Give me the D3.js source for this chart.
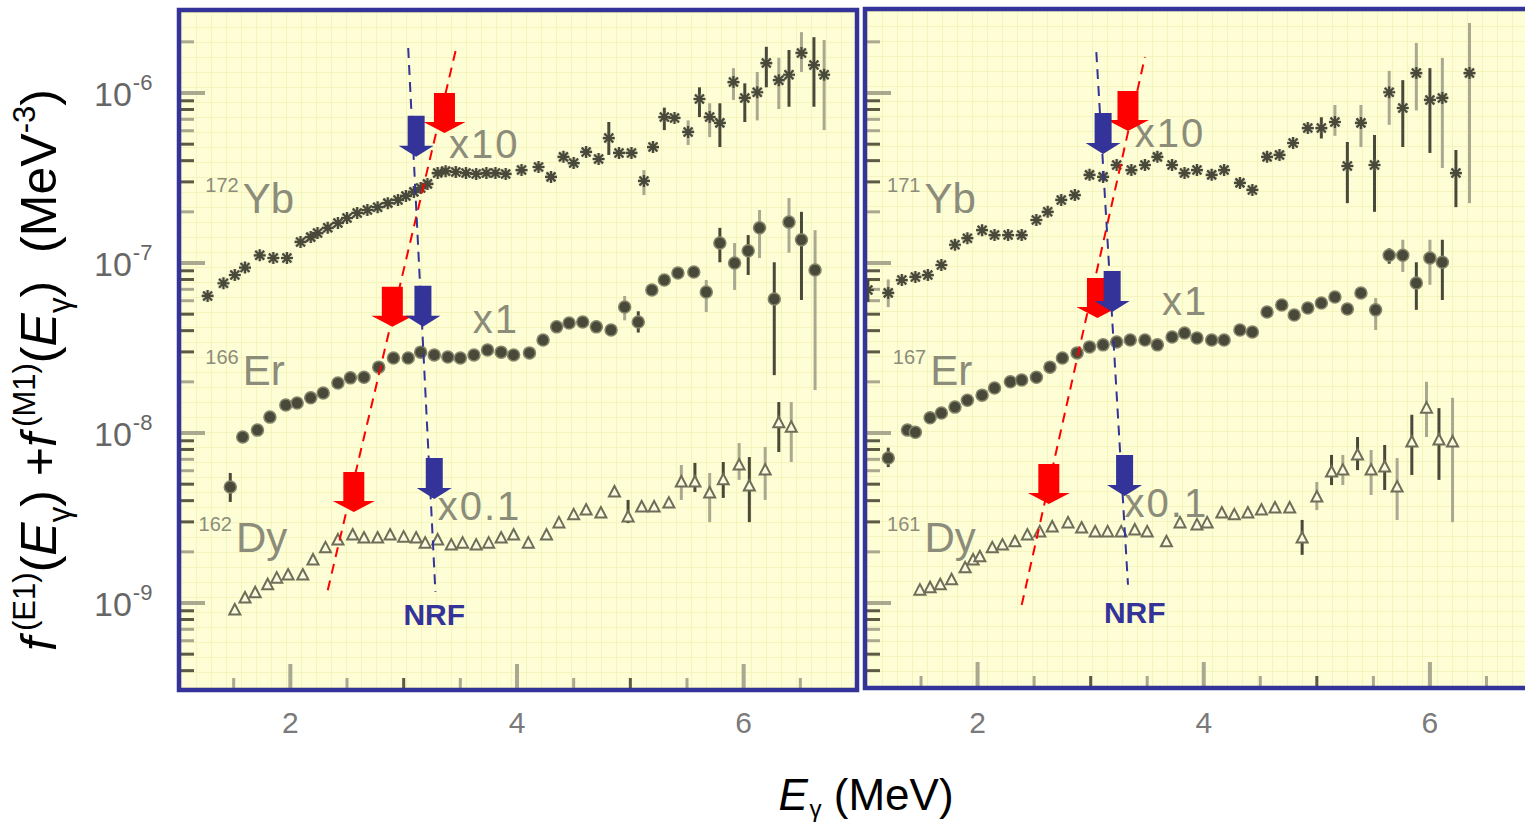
<!DOCTYPE html>
<html><head><meta charset="utf-8">
<script src="https://cdn.jsdelivr.net/npm/d3@7"></script>
<style>
body{margin:0;background:#fff;}
svg{display:block;font-family:"Liberation Sans",Arial,sans-serif;}
</style>
</head><body>
<svg id="chart" width="1525" height="829"></svg>
<script>
// ---------------- DATA ----------------
// each point: [E (MeV), f (MeV^-3, already multiplied by the panel factor), errLow, errHigh]
const yb172 = [[1.27,6.4e-8],[1.41,7.6e-8],[1.51,8.5e-8],[1.60,9.4e-8],[1.73,1.11e-7],[1.85,1.07e-7],[1.97,1.07e-7],[2.09,1.33e-7],[2.18,1.42e-7],[2.24,1.50e-7],[2.33,1.61e-7],[2.42,1.72e-7],[2.50,1.84e-7],[2.59,1.97e-7],[2.68,2.05e-7],[2.77,2.13e-7],[2.86,2.25e-7],[2.95,2.35e-7],[3.02,2.48e-7],[3.09,2.62e-7],[3.15,2.76e-7],[3.21,2.92e-7],[3.30,3.38e-7],[3.37,3.47e-7],[3.46,3.43e-7],[3.55,3.38e-7],[3.64,3.34e-7],[3.73,3.38e-7],[3.81,3.38e-7],[3.90,3.34e-7],[4.04,3.52e-7],[4.19,3.67e-7],[4.30,3.21e-7],[4.41,4.21e-7],[4.50,3.87e-7],[4.61,4.50e-7],[4.72,4.09e-7],[4.81,5.43e-7,4.32e-7,6.75e-7],[4.90,4.44e-7],[5.01,4.44e-7],[5.12,3.04e-7,2.51e-7,3.52e-7],[5.20,4.81e-7],[5.30,7.22e-7,6.05e-7,8.2e-7],[5.39,7.13e-7],[5.51,5.90e-7,4.94e-7,6.9e-7],[5.61,9.22e-7,7.22e-7,1.08e-6],[5.70,7.22e-7,5.5e-7,8.7e-7],[5.79,6.67e-7,4.81e-7,8.7e-7],[5.91,1.16e-6,9.1e-7,1.40e-6],[6.01,9.35e-7,6.75e-7,1.14e-6],[6.12,1.01e-6,6.9e-7,1.33e-6],[6.20,1.50e-6,1.08e-6,1.87e-6],[6.31,1.19e-6,8.05e-7,1.61e-6],[6.40,1.28e-6,8.3e-7,1.79e-6],[6.51,1.72e-6,1.33e-6,2.28e-6],[6.62,1.46e-6,8.3e-7,2.13e-6],[6.71,1.28e-6,6.05e-7,2.05e-6]];
const er166 = [[1.47,4.81e-9,3.93e-9,5.82e-9],[1.58,9.47e-9],[1.71,1.04e-8],[1.82,1.24e-8],[1.96,1.46e-8],[2.06,1.50e-8],[2.18,1.61e-8],[2.29,1.72e-8],[2.42,1.97e-8],[2.53,2.11e-8],[2.65,2.13e-8],[2.78,2.44e-8],[2.91,2.76e-8],[3.04,2.76e-8],[3.15,2.99e-8],[3.27,2.88e-8],[3.39,2.80e-8],[3.50,2.76e-8],[3.62,2.88e-8],[3.74,3.08e-8],[3.86,2.99e-8],[3.97,2.88e-8],[4.11,2.96e-8],[4.23,3.52e-8],[4.35,4.21e-8],[4.46,4.44e-8],[4.58,4.50e-8],[4.70,4.21e-8],[4.83,4.04e-8],[4.95,5.51e-8,4.6e-8,6.4e-8],[5.07,4.50e-8,3.9e-8,5.2e-8],[5.19,6.94e-8],[5.30,7.94e-8],[5.42,8.73e-8],[5.56,8.85e-8],[5.67,6.75e-8,5.15e-8,7.94e-8],[5.79,1.31e-7,1.01e-7,1.61e-7],[5.92,1.0e-7,6.94e-8,1.31e-7],[6.04,1.18e-7,8.5e-8,1.46e-7],[6.14,1.61e-7,1.07e-7,2.05e-7],[6.27,6.14e-8,2.19e-8,1.01e-7],[6.40,1.74e-7,1.15e-7,2.41e-7],[6.51,1.37e-7,6.06e-8,2.0e-7],[6.63,9.1e-8,1.79e-8,1.56e-7]];
const dy162 = [[1.51,9.1e-10],[1.60,1.07e-9],[1.69,1.15e-9],[1.80,1.28e-9],[1.88,1.40e-9],[1.98,1.46e-9],[2.11,1.46e-9],[2.20,1.79e-9],[2.31,2.11e-9],[2.42,2.35e-9],[2.55,2.51e-9],[2.65,2.41e-9],[2.77,2.41e-9],[2.88,2.51e-9],[3.00,2.44e-9],[3.11,2.41e-9],[3.19,2.25e-9],[3.30,2.35e-9],[3.42,2.19e-9],[3.52,2.25e-9],[3.64,2.19e-9],[3.75,2.25e-9],[3.86,2.41e-9],[3.97,2.51e-9],[4.10,2.25e-9],[4.26,2.51e-9],[4.37,2.96e-9],[4.50,3.30e-9],[4.61,3.52e-9],[4.74,3.38e-9],[4.86,4.50e-9],[4.98,3.21e-9,2.95e-9,4.04e-9],[5.10,3.67e-9],[5.21,3.67e-9],[5.34,3.87e-9],[5.45,5.15e-9,4.04e-9,6.48e-9],[5.57,5.15e-9,4.50e-9,6.67e-9],[5.70,4.44e-9,2.99e-9,5.82e-9],[5.82,5.30e-9,4.15e-9,6.75e-9],[5.96,6.48e-9,5.30e-9,8.73e-9],[6.05,4.88e-9,2.99e-9,7.22e-9],[6.19,6.05e-9,4.04e-9,8.28e-9],[6.31,1.15e-8,7.73e-9,1.52e-8],[6.42,1.08e-8,6.75e-9,1.52e-8]];

const yb171 = [[1.03,6.94e-8,5.9e-8,8.0e-8],[1.21,6.67e-8,5.5e-8,8.0e-8],[1.33,7.94e-8],[1.45,8.28e-8],[1.56,8.49e-8],[1.68,9.73e-8],[1.80,1.28e-7],[1.91,1.40e-7],[2.04,1.56e-7],[2.15,1.46e-7],[2.27,1.46e-7],[2.39,1.46e-7],[2.52,1.79e-7],[2.62,2.0e-7],[2.74,2.35e-7],[2.86,2.51e-7],[2.99,3.30e-7],[3.11,3.21e-7],[3.23,3.77e-7],[3.36,3.52e-7],[3.48,3.77e-7],[3.59,4.21e-7],[3.72,3.77e-7],[3.83,3.38e-7],[3.94,3.52e-7],[4.07,3.30e-7],[4.18,3.52e-7],[4.32,2.96e-7],[4.43,2.69e-7],[4.56,4.21e-7],[4.67,4.32e-7],[4.79,5.08e-7],[4.92,6.22e-7],[5.04,6.22e-7,5.4e-7,7.2e-7],[5.16,6.75e-7,5.6e-7,8.5e-7],[5.27,3.72e-7,2.25e-7,5.15e-7],[5.39,6.67e-7,4.81e-7,8.5e-7],[5.51,3.77e-7,2.0e-7,5.66e-7],[5.64,1.01e-6,6.5e-7,1.35e-6],[5.76,8.16e-7,4.81e-7,1.19e-6],[5.88,1.31e-6,7.9e-7,1.97e-6],[6.00,9.1e-7,4.44e-7,1.40e-6],[6.11,9.35e-7,3.62e-7,1.61e-6],[6.23,3.38e-7,2.13e-7,4.62e-7],[6.35,1.31e-6,2.25e-7,2.58e-6]];
const er167 = [[1.21,7.13e-9,6.3e-9,8.2e-9],[1.38,1.04e-8],[1.45,1.01e-8],[1.58,1.23e-8],[1.68,1.31e-8],[1.80,1.42e-8],[1.91,1.56e-8],[2.04,1.67e-8],[2.15,1.84e-8],[2.29,2.0e-8],[2.39,2.05e-8],[2.52,2.13e-8],[2.64,2.44e-8],[2.75,2.76e-8],[2.88,2.96e-8],[2.99,3.21e-8],[3.11,3.30e-8],[3.23,3.43e-8],[3.35,3.52e-8],[3.48,3.52e-8],[3.59,3.30e-8],[3.72,3.67e-8],[3.83,3.87e-8],[3.94,3.62e-8],[4.07,3.52e-8],[4.18,3.52e-8],[4.32,4.04e-8],[4.43,3.93e-8],[4.56,5.15e-8],[4.69,5.66e-8],[4.80,4.94e-8],[4.92,5.43e-8],[5.04,5.82e-8],[5.16,6.31e-8],[5.27,5.36e-8],[5.39,6.67e-8],[5.52,5.30e-8,4.04e-8,6.22e-8],[5.64,1.11e-7,9.9e-8,1.22e-7],[5.76,1.11e-7,8.85e-8,1.37e-7],[5.88,7.62e-8,5.30e-8,1.01e-7],[6.00,1.07e-7,7.44e-8,1.37e-7],[6.11,1.01e-7,6.06e-8,1.37e-7]];
const dy161 = [[1.49,1.19e-9],[1.58,1.23e-9],[1.67,1.28e-9],[1.77,1.37e-9],[1.89,1.61e-9],[1.96,1.79e-9],[2.02,1.87e-9],[2.13,2.11e-9],[2.22,2.19e-9],[2.33,2.29e-9],[2.44,2.51e-9],[2.55,2.62e-9],[2.66,2.80e-9],[2.80,2.96e-9],[2.92,2.76e-9],[3.04,2.62e-9],[3.15,2.62e-9],[3.27,2.62e-9],[3.39,2.69e-9],[3.50,2.62e-9],[3.67,2.29e-9],[3.79,2.96e-9],[3.94,2.88e-9],[4.03,2.96e-9],[4.16,3.38e-9],[4.27,3.30e-9],[4.39,3.38e-9],[4.51,3.52e-9],[4.63,3.62e-9],[4.76,3.62e-9],[4.87,2.41e-9,1.92e-9,3.08e-9],[5.00,4.20e-9,3.52e-9,5.15e-9],[5.13,5.9e-9,4.94e-9,7.43e-9],[5.23,6.05e-9,4.94e-9,7.43e-9],[5.36,7.43e-9,6.05e-9,9.47e-9],[5.48,6.05e-9,4.32e-9,7.94e-9],[5.60,6.31e-9,4.62e-9,8.5e-9],[5.71,4.81e-9,3.08e-9,7.13e-9],[5.84,8.85e-9,5.66e-9,1.28e-8],[5.97,1.40e-8,9.47e-9,2.0e-8],[6.08,9.1e-9,5.30e-9,1.40e-8],[6.20,8.85e-9,2.99e-9,1.61e-8]];

// dashed guide lines [[E,f],[E,f]]
const leftThresholdLine = [[2.33,1.19e-9],[3.47,1.91e-6]];
const leftNrfLine = [[3.04,1.84e-6],[3.28,1.16e-9]];
const rightThresholdLine = [[2.39,9.73e-10],[3.48,1.63e-6]];
const rightNrfLine = [[3.05,1.74e-6],[3.33,1.28e-9]];

// arrow tips [E, f]
const leftThresholdArrows = [[3.36,5.82e-7],[2.90,4.21e-8],[2.56,3.43e-9]];
const leftNrfArrows = [[3.11,4.21e-7],[3.17,4.21e-8],[3.27,4.09e-9]];
const rightThresholdArrows = [[3.33,5.97e-7],[3.06,4.75e-8],[2.63,3.82e-9]];
const rightNrfArrows = [[3.11,4.38e-7],[3.19,5.15e-8],[3.30,4.26e-9]];

// labels
const leftNuclei = [["172","Yb"],["166","Er"],["162","Dy"]];
const rightNuclei = [["171","Yb"],["167","Er"],["161","Dy"]];
const factors = ["x10","x1","x0.1"];
const xTickLabels = [2,4,6];
const yTickExponents = [-6,-7,-8,-9];

// ---------------- DRAWING ----------------
const svg = d3.select("#chart");
const defs = svg.append("defs");
const y = d3.scaleLog().domain([1e-9,1e-6]).range([603,93]);

const DARK = "#49493a", GREY = "#a9a990", TXT = "#8c8c7a";

function drawPanel(cfg) {
  const x = d3.scaleLinear().domain([1,7]).range(cfg.xr);
  const [x0,y0,x1,y1] = cfg.box;
  const id = cfg.id;
  defs.append("clipPath").attr("id","clip"+id).append("rect")
    .attr("x",x0).attr("y",y0).attr("width",x1-x0).attr("height",y1-y0);
  const pat = defs.append("pattern").attr("id","grid"+id).attr("patternUnits","userSpaceOnUse")
    .attr("width",15).attr("height",15).attr("x",x0).attr("y",y0);
  pat.append("rect").attr("width",15).attr("height",15).attr("fill","#fdfdd6");
  pat.append("path").attr("d","M0 0.5H15M0.5 0V15").attr("stroke","#f4f4bc").attr("stroke-width",1);

  const g = svg.append("g").attr("clip-path","url(#clip"+id+")");
  g.append("rect").attr("x",x0).attr("y",y0).attr("width",x1-x0).attr("height",y1-y0).attr("fill","url(#grid"+id+")");

  // y ticks (log)
  const yt = [];
  for (let k=-10;k<=-5;k++) for (let m=1;m<=9;m++) yt.push({v:m*Math.pow(10,k), m:m});
  yt.filter(t=>y(t.v)>y0+3 && y(t.v)<y1-3).forEach(t=>{
    const major = t.m===1;
    g.append("line").attr("x1",x0).attr("x2",x0+(major?24:13))
      .attr("y1",y(t.v)).attr("y2",y(t.v))
      .attr("stroke", major?GREY:([2,6,7].includes(t.m) ? GREY : "#5a5a45"))
      .attr("stroke-width", major?4:3);
  });
  // x ticks
  d3.range(1.5,7.01,0.5).filter(v=>x(v)>x0+3 && x(v)<x1-3).forEach(v=>{
    const major = [2,4,6].includes(v);
    g.append("line").attr("x1",x(v)).attr("x2",x(v)).attr("y1",y1).attr("y2",y1-(major?24:10))
      .attr("stroke", major?GREY:(v%1===0?"#5a5a45":GREY)).attr("stroke-width",major?4:3);
  });

  // error bars
  [cfg.yb,cfg.er,cfg.dy].forEach(series=>{
    series.filter(d=>d.length>2).forEach((d,i)=>{
      g.append("line").attr("x1",x(d[0])).attr("x2",x(d[0]))
        .attr("y1",y(d[2])).attr("y2",y(d[3]))
        .attr("stroke", i%2? GREY: DARK).attr("stroke-width",3);
    });
  });

  // Yb stars
  const star = "M-6,0H6M0,-6V6M-4.5,-4.5L4.5,4.5M-4.5,4.5L4.5,-4.5";
  const sg = g.append("g");
  sg.selectAll("circle").data(cfg.yb).join("circle").attr("cx",d=>x(d[0])).attr("cy",d=>y(d[1]))
    .attr("r",6).attr("fill","#b9b9a0").attr("opacity",0.55);
  sg.selectAll("path").data(cfg.yb).join("path").attr("d",star)
    .attr("transform",d=>`translate(${x(d[0])},${y(d[1])})`)
    .attr("stroke",DARK).attr("stroke-width",2.2).attr("fill","none");
  // Er circles
  g.append("g").selectAll("circle").data(cfg.er).join("circle")
    .attr("cx",d=>x(d[0])).attr("cy",d=>y(d[1])).attr("r",6)
    .attr("fill",DARK).attr("stroke","#85856c").attr("stroke-width",1.5);
  // Dy triangles
  const tri = "M0,-6L5.5,4.5L-5.5,4.5Z";
  g.append("g").selectAll("path").data(cfg.dy).join("path").attr("d",tri)
    .attr("transform",d=>`translate(${x(d[0])},${y(d[1])})`)
    .attr("fill","#fbfbe0").attr("stroke","#6d6d58").attr("stroke-width",2);

  // nucleus labels
  cfg.nucleiPos.forEach((p,i)=>{
    const t = g.append("text").attr("x",x(p[0])).attr("y",y(p[1])).attr("fill",TXT);
    t.append("tspan").attr("font-size",20).attr("dy",-21).text(cfg.nuclei[i][0]);
    t.append("tspan").attr("font-size",42).attr("dy",21).attr("dx",4).text(cfg.nuclei[i][1]);
  });
  cfg.factorPos.forEach((p,i)=>{
    g.append("text").attr("x",x(p[0])).attr("y",y(p[1])).attr("fill",TXT)
      .attr("font-size",40).attr("letter-spacing",2).text(factors[i]);
  });

  // dashed lines
  const line = d3.line().x(d=>x(d[0])).y(d=>y(d[1]));
  g.append("path").attr("d",line(cfg.thrLine)).attr("stroke","#ff0000").attr("stroke-width",2)
    .attr("stroke-dasharray","10,7").attr("fill","none");
  g.append("path").attr("d",line(cfg.nrfLine)).attr("stroke","#333399").attr("stroke-width",2)
    .attr("stroke-dasharray","10,7").attr("fill","none");

  // arrows
  function arrow(tx,ty,w,hw,L,hl){
    return `M${tx-w/2},${ty-L}L${tx+w/2},${ty-L}L${tx+w/2},${ty-hl}L${tx+hw/2},${ty-hl}L${tx},${ty}L${tx-hw/2},${ty-hl}L${tx-w/2},${ty-hl}Z`;
  }
  cfg.thrArrows.forEach(a=>{
    g.append("path").attr("d",arrow(x(a[0]),y(a[1]),21,42,40,11)).attr("fill","#ff0000");
  });
  cfg.nrfArrows.forEach(a=>{
    g.append("path").attr("d",arrow(x(a[0]),y(a[1]),17,35,41,11)).attr("fill","#333399");
  });
  g.append("text").attr("x",x(cfg.nrfPos[0])).attr("y",y(cfg.nrfPos[1])).attr("text-anchor","middle")
    .attr("font-weight","bold").attr("font-size",30).attr("fill","#333399").text("NRF");

  // x tick labels
  xTickLabels.forEach(v=>{
    svg.append("text").attr("x",x(v)).attr("y",733).attr("text-anchor","middle")
      .attr("font-size",30).attr("fill","#7a7a7a").text(v);
  });

  // border
  svg.append("rect").attr("x",x0-2).attr("y",y0-2).attr("width",x1-x0+4).attr("height",y1-y0+4)
    .attr("fill","none").attr("stroke","#333399").attr("stroke-width",4.5);
}

drawPanel({id:"L", box:[181,12,855,688], xr:[177,857],
  yb:yb172, er:er166, dy:dy162, nuclei:leftNuclei,
  nucleiPos:[[1.25,1.97e-7],[1.25,1.91e-8],[1.19,2.0e-9]],
  factorPos:[[3.40,4.15e-7],[3.61,3.87e-8],[3.30,3.08e-9]],
  thrLine:leftThresholdLine, nrfLine:leftNrfLine,
  thrArrows:leftThresholdArrows, nrfArrows:leftNrfArrows, nrfPos:[3.27,7.43e-10]});
drawPanel({id:"R", box:[867,11,1540,686], xr:[864.5,1543],
  yb:yb171, er:er167, dy:dy161, nuclei:rightNuclei,
  nucleiPos:[[1.20,1.97e-7],[1.25,1.91e-8],[1.20,2.0e-9]],
  factorPos:[[3.39,4.81e-7],[3.63,4.94e-8],[3.30,3.21e-9]],
  thrLine:rightThresholdLine, nrfLine:rightNrfLine,
  thrArrows:rightThresholdArrows, nrfArrows:rightNrfArrows, nrfPos:[3.39,7.62e-10]});

// y tick labels (left panel only)
yTickExponents.forEach(e=>{
  const t = svg.append("text").attr("x",94).attr("y",y(Math.pow(10,e))+13).attr("fill","#666");
  t.append("tspan").attr("font-size",34).text("10");
  t.append("tspan").attr("font-size",22).attr("dy",-16).attr("dx",1).text("-"+(-e));
});

// rich text helper: parts [text, kind, dx]
function rich(textSel, parts, base, supShift, subShift, small){
  let shift = 0;
  parts.forEach(([t,k,dx])=>{
    let target = 0, fs = base;
    if (k.includes("sup")) { target = -supShift*base; fs = small*base; }
    if (k.includes("sub")) { target = subShift*base; fs = small*base; }
    const ts = textSel.append("tspan").attr("dy", target-shift).attr("font-size",fs).text(t);
    if (dx) ts.attr("dx", dx*base);
    if (k.includes("i")) ts.attr("font-style","italic");
    shift = target;
  });
}
// y axis title
const yParts = [["f","i"],["(E1)","sup",0.12],["(",""],["E","i"],["γ","sub"],[")",""],["\u00a0+",""],["f","i"],["(M1)","sup",0.12],["(",""],["E","i"],["γ","sub"],[")",""],["\u00a0\u00a0(MeV",""],["-3","sup"],[")",""]];
let yt = svg.append("text").attr("transform","translate(56,370) rotate(-90)").attr("text-anchor","middle").attr("fill","#000");
rich(yt, yParts, 36, 0.42, 0.28, 0.62);
const len = yt.node().getComputedTextLength();
yt.remove();
yt = svg.append("text").attr("transform","translate(56,370) rotate(-90)").attr("text-anchor","middle").attr("fill","#000");
rich(yt, yParts, 36*550/len, 0.42, 0.28, 0.62);

// x axis title
const xt = svg.append("text").attr("x",866).attr("y",810).attr("text-anchor","middle").attr("fill","#000");
rich(xt, [["E","i"],["γ","sub",0.04],["\u00a0(MeV)",""]], 44, 0.4, 0.16, 0.55);
</script>
</body></html>
